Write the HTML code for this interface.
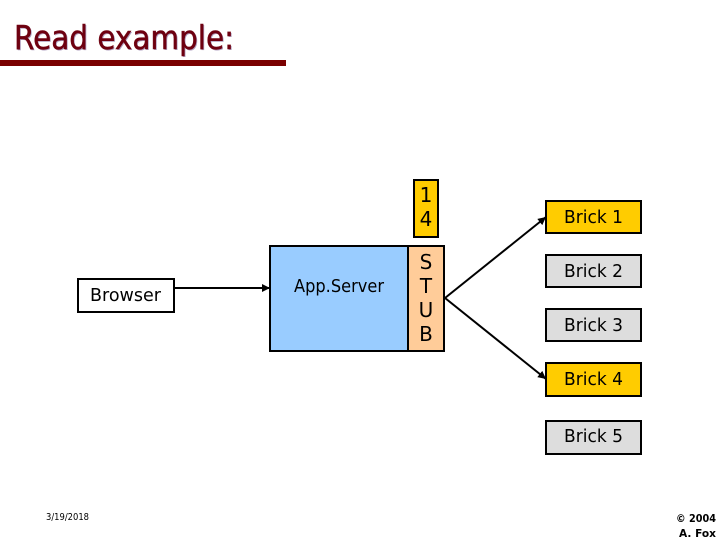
<!DOCTYPE html>
<html>
<head>
<meta charset="utf-8">
<style>
html,body{margin:0;padding:0;background:#fff;width:720px;height:540px;overflow:hidden}
svg{display:block}
text{font-family:"DejaVu Sans","Liberation Sans",sans-serif;fill:#000}
</style>
</head>
<body>
<svg width="720" height="540" viewBox="0 0 720 540" xmlns="http://www.w3.org/2000/svg">
<defs>
<marker id="a" markerWidth="10" markerHeight="10" refX="8" refY="4" orient="auto" markerUnits="userSpaceOnUse"><path d="M0 0L8 4L0 8Z" fill="#000"/></marker>
</defs>
<text x="15" y="50" font-size="33" style="fill:#b0a0c0" textLength="220" lengthAdjust="spacingAndGlyphs">Read example:</text>
<text x="14" y="49" font-size="33" style="fill:#6e0010;stroke:#6e0010;stroke-width:.5" textLength="220" lengthAdjust="spacingAndGlyphs">Read example:</text>
<rect x="0" y="60" width="286" height="6" fill="#7a0000"/>

<rect x="78" y="279" width="96" height="33" fill="#fff" stroke="#000" stroke-width="2"/>
<text x="125.500" y="301" font-size="18" text-anchor="middle" textLength="71" lengthAdjust="spacingAndGlyphs">Browser</text>

<rect x="270" y="246" width="138" height="105" fill="#99ccff" stroke="#000" stroke-width="2"/>
<text x="339" y="292" font-size="18" text-anchor="middle" textLength="90" lengthAdjust="spacingAndGlyphs">App.Server</text>

<rect x="408" y="246" width="36" height="105" fill="#ffcc99" stroke="#000" stroke-width="2"/>
<text x="426" y="269" font-size="20" text-anchor="middle">S</text>
<text x="426" y="293" font-size="20" text-anchor="middle">T</text>
<text x="426" y="317" font-size="20" text-anchor="middle">U</text>
<text x="426" y="341" font-size="20" text-anchor="middle">B</text>

<rect x="414" y="180" width="24" height="57" fill="#ffcc00" stroke="#000" stroke-width="2"/>
<text x="426" y="202" font-size="20" text-anchor="middle">1</text>
<text x="426" y="226" font-size="20" text-anchor="middle">4</text>

<rect x="546" y="201" width="95" height="32" fill="#ffcc00" stroke="#000" stroke-width="2"/>
<text x="593.500" y="223" font-size="18" text-anchor="middle" textLength="59" lengthAdjust="spacingAndGlyphs">Brick 1</text>
<rect x="546" y="255" width="95" height="32" fill="#dddddd" stroke="#000" stroke-width="2"/>
<text x="593.500" y="277" font-size="18" text-anchor="middle" textLength="59" lengthAdjust="spacingAndGlyphs">Brick 2</text>
<rect x="546" y="309" width="95" height="32" fill="#dddddd" stroke="#000" stroke-width="2"/>
<text x="593.500" y="331" font-size="18" text-anchor="middle" textLength="59" lengthAdjust="spacingAndGlyphs">Brick 3</text>
<rect x="546" y="363" width="95" height="33" fill="#ffcc00" stroke="#000" stroke-width="2"/>
<text x="593.500" y="385" font-size="18" text-anchor="middle" textLength="59" lengthAdjust="spacingAndGlyphs">Brick 4</text>
<rect x="546" y="421" width="95" height="33" fill="#dddddd" stroke="#000" stroke-width="2"/>
<text x="593.500" y="442" font-size="18" text-anchor="middle" textLength="59" lengthAdjust="spacingAndGlyphs">Brick 5</text>

<g stroke="#000" stroke-width="2" fill="none">
<line x1="174" y1="288" x2="270" y2="288" marker-end="url(#a)"/>
<line x1="445" y1="298" x2="546" y2="217" marker-end="url(#a)"/>
<line x1="445" y1="298" x2="546" y2="379" marker-end="url(#a)"/>
</g>

<text x="46" y="520" font-size="10" textLength="43" lengthAdjust="spacingAndGlyphs">3/19/2018</text>
<text x="716" y="522" font-size="11" font-weight="bold" text-anchor="end" textLength="40" lengthAdjust="spacingAndGlyphs">© 2004</text>
<text x="716" y="537" font-size="11" font-weight="bold" text-anchor="end" textLength="37" lengthAdjust="spacingAndGlyphs">A. Fox</text>
</svg>
</body>
</html>
